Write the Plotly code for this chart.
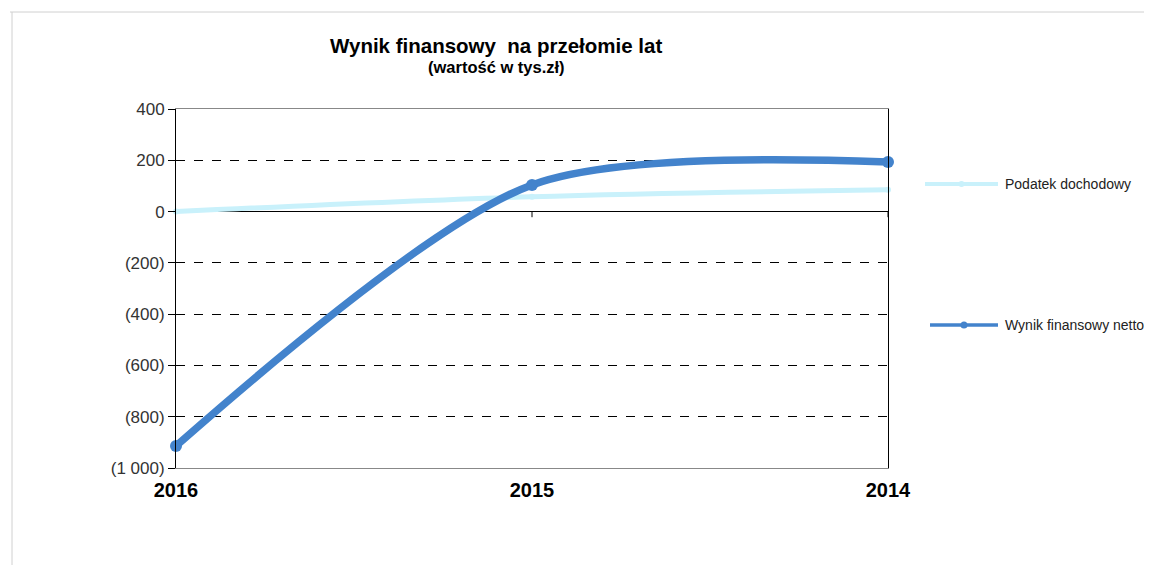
import plotly.graph_objects as go

years = ["2016", "2015", "2014"]
podatek = [0, 58, 85]
netto = [-914, 104, 193]
y_ticks = [400, 200, 0, -200, -400, -600, -800, -1000]
y_labels = ["400", "200", "0", "(200)", "(400)", "(600)", "(800)", "(1 000)"]
series_names = ["Podatek dochodowy", "Wynik finansowy netto"]

xs = list(range(len(years)))
FONT = "Liberation Sans, Arial, sans-serif"
C_POD = "#c9f1fb"
C_NET = "#4383cc"

# page offset: browser body margin is 8px
W, H = 1144, 557
L, R, T, B = 168, 264, 101, 97
PL, PT = 8 + L, 8 + T            # plot-left / plot-top in screen px
PW, PH = W - L - R, H - T - B


def px_x(px):
    return (px - PL) / PW


def px_y(py):
    return (PT + PH - py) / PH


fig = go.Figure()
fig.add_trace(go.Scatter(
    x=xs, y=podatek, name=series_names[0], mode="lines+markers",
    line=dict(color=C_POD, width=5, shape="spline"),
    marker=dict(size=6, color=C_POD), cliponaxis=False, showlegend=False))
fig.add_trace(go.Scatter(
    x=xs, y=netto, name=series_names[1], mode="lines+markers",
    line=dict(color=C_NET, width=7.5, shape="spline", smoothing=0.8),
    marker=dict(size=12, color=C_NET), cliponaxis=False, showlegend=False))

shapes = []
# small tick marks on the zero axis line
for i in xs[1:]:
    shapes.append(dict(type="line", xref="x", yref="y", x0=i, x1=i, y0=0, y1=-22,
                       line=dict(color="black", width=1)))
# scanned page border
shapes.append(dict(type="line", xref="paper", yref="paper", x0=px_x(10), x1=px_x(1152),
                   y0=px_y(12), y1=px_y(12), line=dict(color="#d0d0d0", width=1)))
shapes.append(dict(type="line", xref="paper", yref="paper", x0=px_x(12), x1=px_x(12),
                   y0=px_y(12), y1=px_y(565), line=dict(color="#d0d0d0", width=1)))

# custom legend (line sample + marker + label)
legend_specs = [
    (series_names[0], C_POD, 4, 6, 925, 998, 184),
    (series_names[1], C_NET, 3.5, 7, 930, 998, 325),
]
annotations = []
for name, col, lw, ms, x0, x1, yy in legend_specs:
    shapes.append(dict(type="line", xref="paper", yref="paper", x0=px_x(x0), x1=px_x(x1),
                       y0=px_y(yy), y1=px_y(yy), line=dict(color=col, width=lw)))
    xm = (x0 + x1) / 2
    shapes.append(dict(type="circle", xref="paper", yref="paper",
                       x0=px_x(xm - ms / 2), x1=px_x(xm + ms / 2),
                       y0=px_y(yy + ms / 2), y1=px_y(yy - ms / 2),
                       fillcolor=col, line=dict(color=col, width=0)))
    annotations.append(dict(text=name, xref="paper", yref="paper", x=px_x(1003), y=px_y(yy),
                            xanchor="left", yanchor="middle", showarrow=False,
                            font=dict(size=14, color="#222")))

annotations += [
    dict(text="<b>Wynik finansowy  na przełomie lat</b>", xref="paper", yref="paper",
         x=px_x(496), y=px_y(45), showarrow=False, font=dict(size=20.5, color="black"),
         xanchor="center", yanchor="middle"),
    dict(text="<b>(wartość w tys.zł)</b>", xref="paper", yref="paper",
         x=px_x(496), y=px_y(67), showarrow=False, font=dict(size=16.5, color="black"),
         xanchor="center", yanchor="middle"),
]

fig.update_layout(
    width=W, height=H,
    margin=dict(l=L, r=R, t=T, b=B),
    paper_bgcolor="white", plot_bgcolor="white",
    font=dict(family=FONT, color="#222"),
    shapes=shapes, annotations=annotations, showlegend=False,
    xaxis=dict(range=[0, 2], tickvals=xs, ticktext=[f"<b>{y}</b>" for y in years],
               showgrid=False, zeroline=False, showline=True, linecolor="#888", mirror=True,
               ticks="", tickfont=dict(size=20, color="black"), ticklabelstandoff=4),
    yaxis=dict(range=[-1000, 400], tickvals=y_ticks, ticktext=y_labels,
               showgrid=True, gridcolor="black", griddash="dash", gridwidth=1,
               zeroline=True, zerolinecolor="black", zerolinewidth=1.2,
               showline=True, linecolor="black", mirror=True, ticks="outside", ticklen=7,
               tickcolor="black", tickfont=dict(size=17, color="#333")),
)

fig.write_html("out.html")
